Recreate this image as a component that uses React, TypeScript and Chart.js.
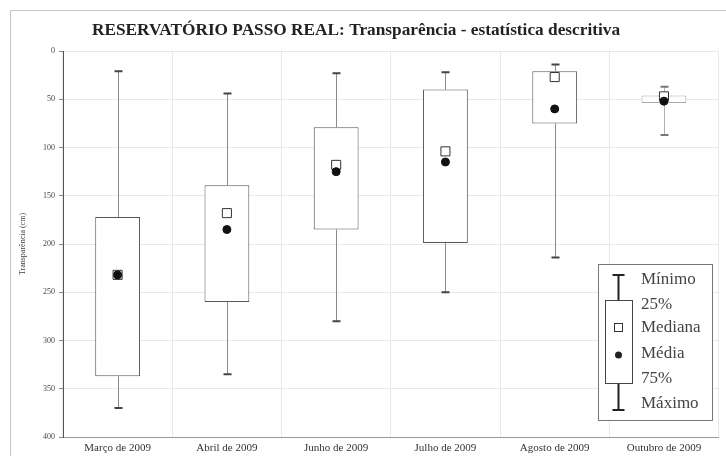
import React, { useEffect, useRef } from "react";
import { Chart, registerables } from "chart.js";

Chart.register(...registerables);

// Monthly transparency statistics (cm), Passo Real reservoir
const categories = [
  "Março de 2009",
  "Abril de 2009",
  "Junho de 2009",
  "Julho de 2009",
  "Agosto de 2009",
  "Outubro de 2009",
];
const minimo = [21, 44, 23, 22, 14, 37];
const p25 = [172, 139, 79, 40, 21, 46];
const mediana = [232, 168, 118, 104, 27, 47];
const media = [232, 185, 125, 115, 60, 52];
const p75 = [337, 260, 185, 199, 75, 54];
const maximo = [370, 335, 280, 250, 214, 87];

const yMin = 0;
const yMax = 400;
const yStep = 50;

const titleText = "RESERVATÓRIO PASSO REAL: Transparência - estatística descritiva";
const yTitle = "Transparência (cm)";
const legendLabels = ["Mínimo", "25%", "Mediana", "Média", "75%", "Máximo"];

const SERIF = "'Liberation Serif', 'DejaVu Serif', serif";

// Whiskers (min → 25%, 75% → max) with end caps, drawn under the boxes
const whiskerPlugin = {
  id: "whiskers",
  beforeDatasetsDraw(chart: any) {
    const { ctx, scales } = chart;
    const xs = scales.x;
    const ys = scales.y;
    ctx.save();
    for (let i = 0; i < categories.length; i++) {
      const x = Math.round(xs.getPixelForValue(i)) + 0.5;
      const yMinPx = ys.getPixelForValue(minimo[i]);
      const yQ1 = ys.getPixelForValue(p25[i]);
      const yQ3 = ys.getPixelForValue(p75[i]);
      const yMaxPx = ys.getPixelForValue(maximo[i]);
      const light = i === categories.length - 1;
      ctx.strokeStyle = light ? "#b0b0b0" : "#8a8a8a";
      ctx.lineWidth = 1;
      ctx.beginPath();
      ctx.moveTo(x, yMinPx);
      ctx.lineTo(x, yQ1);
      ctx.moveTo(x, yQ3);
      ctx.lineTo(x, yMaxPx);
      ctx.stroke();
      ctx.strokeStyle = light ? "#777" : "#444";
      ctx.lineWidth = 2;
      ctx.beginPath();
      ctx.moveTo(x - 4, yMinPx);
      ctx.lineTo(x + 4, yMinPx);
      ctx.moveTo(x - 4, yMaxPx);
      ctx.lineTo(x + 4, yMaxPx);
      ctx.stroke();
    }
    ctx.restore();
  },
};

// Outer frame, title and the box-plot key
const decorPlugin = {
  id: "decor",
  afterDraw(chart: any) {
    const { ctx } = chart;
    ctx.save();
    // frame
    ctx.strokeStyle = "#c4c4c4";
    ctx.lineWidth = 1;
    ctx.beginPath();
    ctx.moveTo(10.5, chart.height);
    ctx.lineTo(10.5, 10.5);
    ctx.lineTo(chart.width, 10.5);
    ctx.stroke();

    // title
    ctx.fillStyle = "#222";
    ctx.font = `bold 17.3px ${SERIF}`;
    ctx.textAlign = "center";
    ctx.textBaseline = "middle";
    ctx.fillText(titleText, 356, 31);

    // key box
    const bx = 598.5, by = 264.5, bw = 114, bh = 156;
    ctx.fillStyle = "#fff";
    ctx.fillRect(bx, by, bw, bh);
    ctx.strokeStyle = "#777";
    ctx.lineWidth = 1;
    ctx.strokeRect(bx, by, bw, bh);

    const cx = 618.5;
    const capTop = 275, q1 = 300, q3 = 383, capBot = 410;
    ctx.strokeStyle = "#222";
    ctx.lineWidth = 2;
    ctx.beginPath();
    ctx.moveTo(cx, capTop);
    ctx.lineTo(cx, q1);
    ctx.moveTo(cx, q3);
    ctx.lineTo(cx, capBot);
    ctx.moveTo(cx - 6, capTop);
    ctx.lineTo(cx + 6, capTop);
    ctx.moveTo(cx - 6, capBot);
    ctx.lineTo(cx + 6, capBot);
    ctx.stroke();
    ctx.lineWidth = 1;
    ctx.strokeStyle = "#444";
    ctx.strokeRect(605.5, q1 + 0.5, 27, q3 - q1);
    // median square
    ctx.strokeStyle = "#333";
    ctx.strokeRect(614.5, 323.5, 8, 8);
    // mean dot
    ctx.fillStyle = "#222";
    ctx.beginPath();
    ctx.arc(cx, 355, 3.5, 0, Math.PI * 2);
    ctx.fill();

    ctx.fillStyle = "#444";
    ctx.font = `17px ${SERIF}`;
    ctx.textAlign = "left";
    ctx.textBaseline = "middle";
    const ys = [280, 305, 328, 354, 379, 404];
    legendLabels.forEach((t, i) => ctx.fillText(t, 641, ys[i]));
    ctx.restore();
  },
};

export default function App() {
  const canvasRef = useRef<HTMLCanvasElement | null>(null);

  useEffect(() => {
    if (!canvasRef.current) return;
    const last = categories.length - 1;
    const chart = new Chart(canvasRef.current, {
      type: "bar",
      data: {
        labels: categories,
        datasets: [
          {
            type: "line",
            label: "Média",
            data: media,
            showLine: false,
            pointStyle: "circle",
            pointRadius: 4,
            pointBackgroundColor: "#111",
            pointBorderColor: "#111",
            pointBorderWidth: 1,
            order: 0,
          } as any,
          {
            type: "line",
            label: "Mediana",
            data: mediana,
            showLine: false,
            pointStyle: "rect",
            pointRadius: 6.4,
            pointBackgroundColor: "#fff",
            pointBorderColor: "#333",
            pointBorderWidth: 1,
            order: 1,
          } as any,
          {
            type: "bar",
            label: "25% - 75%",
            data: categories.map((_, i) => [p25[i], p75[i]]),
            backgroundColor: "#fff",
            borderColor: categories.map((_, i) => (i === last ? "#aaa" : "#555")),
            borderWidth: 1,
            borderSkipped: false,
            categoryPercentage: 1,
            barPercentage: 0.41,
            order: 2,
          } as any,
        ],
      },
      options: {
        responsive: false,
        animation: false,
        devicePixelRatio: 1,
        layout: { padding: { left: 18, top: 51, right: 3, bottom: 0 } },
        plugins: {
          legend: { display: false },
          title: { display: false },
          tooltip: { enabled: false },
        },
        scales: {
          x: {
            grid: { color: "#e8e8e8", offset: true, drawTicks: false },
            border: { color: "#9a9a9a", width: 1 },
            ticks: {
              color: "#333",
              font: { family: SERIF, size: 11 },
              padding: 5,
              maxRotation: 0,
              autoSkip: false,
            },
            afterFit(scale: any) {
              scale.height = 19;
            },
          },
          y: {
            reverse: true,
            min: yMin,
            max: yMax,
            ticks: {
              stepSize: yStep,
              color: "#444",
              font: { family: SERIF, size: 8 },
              padding: 4,
            },
            grid: { color: "#e8e8e8", tickColor: "#888", tickLength: 4 },
            border: { color: "#555", width: 1 },
            title: {
              display: true,
              text: yTitle,
              color: "#444",
              font: { family: SERIF, size: 8 },
              padding: { top: 0, bottom: 0 },
            },
            afterFit(scale: any) {
              scale.width = 45;
            },
          },
        },
      },
      plugins: [whiskerPlugin, decorPlugin],
    });
    return () => chart.destroy();
  }, []);

  return (
    <div style={{ position: "fixed", left: 0, top: 0, width: 726, height: 456, background: "#fff" }}>
      <canvas ref={canvasRef} width={726} height={456} />
    </div>
  );
}
